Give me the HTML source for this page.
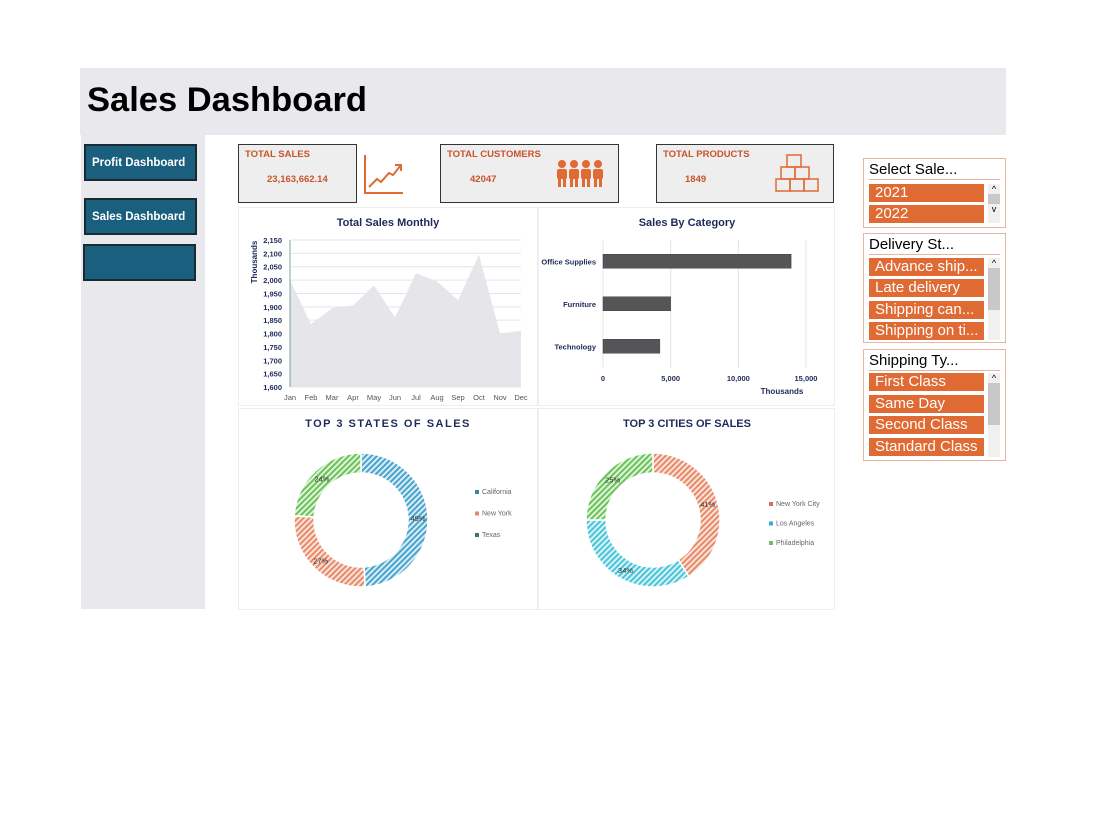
<!DOCTYPE html>
<html><head><meta charset="utf-8">
<style>
body{margin:0;width:1100px;height:825px;background:#fff;font-family:"Liberation Sans",sans-serif;position:relative;overflow:hidden}
.abs{position:absolute}
.btn{position:absolute;background:#1b5f7e;border:2px solid #1a2a33;color:#fff;font-weight:bold;font-size:11.5px;display:flex;align-items:center;padding-left:6px;box-sizing:border-box}
.kpi{position:absolute;background:#efeeee;border:1.5px solid #333;box-sizing:border-box}
.kpi .t{position:absolute;left:6px;top:4px;font-size:9.5px;font-weight:bold;color:#c9532a}
.kpi .v{position:absolute;font-size:9.5px;font-weight:bold;color:#c9532a}
.panel{position:absolute;background:#fff;border:1px solid #eee;box-sizing:border-box}
.slicer{position:absolute;border:1.5px solid #e8b4a4;background:#fff;box-sizing:border-box}
.slicer .h{position:absolute;left:5px;top:2px;font-size:15px;color:#000}
.slicer .ln{position:absolute;left:5px;right:5px;top:20px;height:1px;background:#e8b4a4}
.item{position:absolute;left:5px;width:115px;height:18px;background:#e06a34;color:#fff;font-size:15px;line-height:18px;padding-left:6px;box-sizing:border-box;white-space:nowrap;overflow:hidden}
.sb{position:absolute;right:5px;width:12px;background:#f0f0f0}
</style></head><body>
<div class="abs" style="left:80px;top:68px;width:926px;height:67px;background:#e9e8ec"></div>
<div class="abs" style="left:87px;top:81px;font-size:34.5px;font-weight:bold;color:#000">Sales Dashboard</div>
<div class="abs" style="left:81px;top:135px;width:124px;height:474px;background:#e9e8ec"></div>
<div class="btn" style="left:84px;top:144px;width:113px;height:37px">Profit Dashboard</div>
<div class="btn" style="left:84px;top:198px;width:113px;height:37px">Sales Dashboard</div>
<div class="btn" style="left:83px;top:244px;width:113px;height:37px"></div>

<div class="kpi" style="left:238px;top:144px;width:119px;height:59px">
<div class="t">TOTAL SALES</div><div class="v" style="left:28px;top:29px">23,163,662.14</div>
<svg class="abs" style="left:124px;top:8px" width="58" height="45"><polyline points="2,2 2,40 40,40" fill="none" stroke="#e06a34" stroke-width="2"/><polyline points="6,34 14,26 18,29 26,20 30,22 38,12" fill="none" stroke="#e06a34" stroke-width="2"/><polyline points="32,12 38,12 38,18" fill="none" stroke="#e06a34" stroke-width="2"/></svg>
</div>
<div class="kpi" style="left:440px;top:144px;width:179px;height:59px">
<div class="t">TOTAL CUSTOMERS</div><div class="v" style="left:29px;top:29px">42047</div>
<svg class="abs" style="left:114px;top:14px" width="52" height="30"><g fill="#e06a34">
<circle cx="7" cy="5" r="4"/><rect x="2" y="10" width="10" height="10" rx="2"/><rect x="3" y="19" width="3" height="9"/><rect x="8" y="19" width="3" height="9"/>
<circle cx="19" cy="5" r="4"/><rect x="14" y="10" width="10" height="10" rx="2"/><rect x="15" y="19" width="3" height="9"/><rect x="20" y="19" width="3" height="9"/>
<circle cx="31" cy="5" r="4"/><rect x="26" y="10" width="10" height="10" rx="2"/><rect x="27" y="19" width="3" height="9"/><rect x="32" y="19" width="3" height="9"/>
<circle cx="43" cy="5" r="4"/><rect x="38" y="10" width="10" height="10" rx="2"/><rect x="39" y="19" width="3" height="9"/><rect x="44" y="19" width="3" height="9"/></g></svg>
</div>
<div class="kpi" style="left:656px;top:144px;width:178px;height:59px">
<div class="t">TOTAL PRODUCTS</div><div class="v" style="left:28px;top:29px">1849</div>
<svg class="abs" style="left:118px;top:8px" width="46" height="40"><g fill="none" stroke="#e06a34" stroke-width="1.5"><rect x="12" y="2" width="14" height="12"/><rect x="6" y="14" width="14" height="12"/><rect x="20" y="14" width="14" height="12"/><rect x="1" y="26" width="14" height="12"/><rect x="15" y="26" width="14" height="12"/><rect x="29" y="26" width="14" height="12"/></g></svg>
</div>

<div class="panel" style="left:238px;top:207px;width:300px;height:199px"></div>
<div class="panel" style="left:538px;top:207px;width:297px;height:199px"></div>
<div class="panel" style="left:238px;top:408px;width:300px;height:202px"></div>
<div class="panel" style="left:538px;top:408px;width:297px;height:202px"></div>

<svg class="abs" style="left:0;top:0" width="1100" height="825" id="charts">
<defs>
<pattern id="hb" width="4" height="4" patternUnits="userSpaceOnUse" patternTransform="rotate(45)"><rect width="4" height="4" fill="#d8eef7"/><rect width="2" height="4" fill="#4aa3cc"/></pattern>
<pattern id="ho" width="4" height="4" patternUnits="userSpaceOnUse" patternTransform="rotate(45)"><rect width="4" height="4" fill="#fbe3da"/><rect width="2" height="4" fill="#e68a6a"/></pattern>
<pattern id="hg" width="4" height="4" patternUnits="userSpaceOnUse" patternTransform="rotate(45)"><rect width="4" height="4" fill="#dff5d9"/><rect width="2" height="4" fill="#6cc25a"/></pattern>
<pattern id="hc" width="4" height="4" patternUnits="userSpaceOnUse" patternTransform="rotate(45)"><rect width="4" height="4" fill="#d6f4f8"/><rect width="2" height="4" fill="#4cc4d8"/></pattern>
</defs>
</svg>

<div class="slicer" style="left:863px;top:158px;width:143px;height:70px">
<div class="h">Select Sale...</div><div class="ln"></div>
<div class="item" style="top:25px">2021</div>
<div class="item" style="top:46px">2022</div>
<div class="sb" style="top:25px;height:39px"><div style="font-size:9px;text-align:center">^</div><div style="background:#c8c8c8;height:10px"></div><div style="font-size:9px;text-align:center">v</div></div>
</div>
<div class="slicer" style="left:863px;top:233px;width:143px;height:110px">
<div class="h">Delivery St...</div><div class="ln"></div>
<div class="item" style="top:24px">Advance ship...</div>
<div class="item" style="top:45px">Late delivery</div>
<div class="item" style="top:67px">Shipping can...</div>
<div class="item" style="top:88px">Shipping on ti...</div>
<div class="sb" style="top:24px;height:82px"><div style="font-size:9px;text-align:center;height:10px">^</div><div style="background:#c8c8c8;height:42px"></div></div>
</div>
<div class="slicer" style="left:863px;top:349px;width:143px;height:112px">
<div class="h">Shipping Ty...</div><div class="ln"></div>
<div class="item" style="top:23px">First Class</div>
<div class="item" style="top:45px">Same Day</div>
<div class="item" style="top:66px">Second Class</div>
<div class="item" style="top:88px">Standard Class</div>
<div class="sb" style="top:23px;height:84px"><div style="font-size:9px;text-align:center;height:10px">^</div><div style="background:#c8c8c8;height:42px"></div></div>
</div>

<script>
const months=["Jan","Feb","Mar","Apr","May","Jun","Jul","Aug","Sep","Oct","Nov","Dec"];
const monthlySales=[2000,1835,1895,1905,1980,1860,2025,1995,1925,2095,1800,1810];
const yTicks=[1600,1650,1700,1750,1800,1850,1900,1950,2000,2050,2100,2150];
const categories=["Office Supplies","Furniture","Technology"];
const categorySales=[13900,5000,4200];
const xTicks=[0,5000,10000,15000];
const states=["California","New York","Texas"];
const statePct=[49,27,24];
const cities=["New York City","Los Angeles","Philadelphia"];
const cityPct=[41,34,25];

const NS="http://www.w3.org/2000/svg";
const svg=document.getElementById('charts');
function mk(tag,attrs,txt){const e=document.createElementNS(NS,tag);for(const k in attrs)e.setAttribute(k,attrs[k]);if(txt!==undefined)e.textContent=txt;svg.appendChild(e);return e;}
const navy="#1f2a5a";
const fmt=v=>v.toLocaleString('en-US');

let t;
t=mk('text',{x:388,y:226,'text-anchor':'middle','font-size':11,'font-weight':'bold',fill:navy},'Total Sales Monthly');

t=mk('text',{x:687,y:226,'text-anchor':'middle','font-size':11,'font-weight':'bold',fill:navy},'Sales By Category');

t=mk('text',{x:388,y:427,'text-anchor':'middle','font-size':11,'font-weight':'bold',fill:navy,'letter-spacing':'1.5'},'TOP 3 STATES OF SALES');

t=mk('text',{x:687,y:427,'text-anchor':'middle','font-size':11,'font-weight':'bold',fill:navy},'TOP 3 CITIES OF SALES');


const ax0=290,ax1=521,ay0=387,ay1=240;
const xA=i=>ax0+(ax1-ax0)*i/(months.length-1);
const yA=v=>ay0-(v-1600)/(2150-1600)*(ay0-ay1);
yTicks.forEach(v=>{
  const g=mk('line',{x1:ax0,x2:ax1,y1:yA(v),y2:yA(v),stroke:'#e4e4ec','stroke-width':1});
  
  const l=mk('text',{x:282,y:yA(v)+3,'text-anchor':'end','font-size':7.5,'font-weight':'bold',fill:navy},fmt(v));
  
});
let d=`M${xA(0)},${ay0}`;monthlySales.forEach((v,i)=>d+=` L${xA(i)},${yA(v)}`);d+=` L${xA(months.length-1)},${ay0} Z`;
const area=mk('path',{d:d,fill:'#e6e5e9'});

const axl=mk('line',{x1:ax0,x2:ax0,y1:ay1,y2:ay0,stroke:'#6a8a90','stroke-width':0.8});

months.forEach((m,i)=>{const l=mk('text',{x:xA(i),y:400,'text-anchor':'middle','font-size':7.5,fill:'#555'},m);
  });
t=mk('text',{x:0,y:0,transform:'translate(257,262) rotate(-90)','text-anchor':'middle','font-size':8,'font-weight':'bold',fill:navy},'Thousands');


const bx0=603,bx1=806;
const xB=v=>bx0+v/15000*(bx1-bx0);
const bandTop=240,bandH=42.5;
xTicks.forEach(v=>{
  const g=mk('line',{x1:xB(v),x2:xB(v),y1:240,y2:368,stroke:'#e4e4e4','stroke-width':1});
  
  const l=mk('text',{x:xB(v),y:381,'text-anchor':'middle','font-size':7.5,'font-weight':'bold',fill:navy},fmt(v));
  
});
categories.forEach((c,i)=>{
  const cy=bandTop+bandH*(i+0.5);
  const b=mk('rect',{x:bx0,y:cy-7,width:xB(categorySales[i])-bx0,height:14,fill:'#555457',stroke:'#444',"stroke-width":0.5});
  
  const l=mk('text',{x:596,y:cy+3,'text-anchor':'end','font-size':7.5,'font-weight':'bold',fill:navy},c);
  
});
t=mk('text',{x:782,y:394,'text-anchor':'middle','font-size':8,'font-weight':'bold',fill:navy},'Thousands');


function donut(cx,cy,names,vals,fills,legendColors,lx,ly,lgap,prefix){
  const R=67,r=47;const tot=vals.reduce((a,b)=>a+b,0);let a0=0;
  vals.forEach((v,i)=>{
    const a1=a0+v/tot*2*Math.PI;
    const p=(a,rr)=>[cx+rr*Math.sin(a),cy-rr*Math.cos(a)];
    const large=(a1-a0)>Math.PI?1:0;
    const [x1,y1]=p(a0,R),[x2,y2]=p(a1,R),[x3,y3]=p(a1,r),[x4,y4]=p(a0,r);
    const s=mk('path',{d:`M${x1},${y1} A${R},${R} 0 ${large} 1 ${x2},${y2} L${x3},${y3} A${r},${r} 0 ${large} 0 ${x4},${y4} Z`,fill:`url(#${fills[i]})`,stroke:'#fff','stroke-width':1.5});
    
    const am=(a0+a1)/2;const [tx,ty]=p(am,(R+r)/2);
    const l=mk('text',{x:tx,y:ty+3,'text-anchor':'middle','font-size':7.5,fill:'#333'},v+'%');
    
    a0=a1;
  });
  names.forEach((n,i)=>{
    const sq=mk('rect',{x:lx,y:ly+i*lgap-4,width:4,height:4,fill:legendColors[i]});
    
    const l=mk('text',{x:lx+7,y:ly+i*lgap,'font-size':7,fill:'#666'},n);
    
  });
}
donut(361,520,states,statePct,['hb','ho','hg'],['#3a86a8','#e68a6a','#3a7a60'],475,494,21.5,'state');
donut(653,520,cities,cityPct,['ho','hc','hg'],['#e06a5a','#3aa8e0','#6cc25a'],769,506,19.5,'city');
</script>
</body></html>
